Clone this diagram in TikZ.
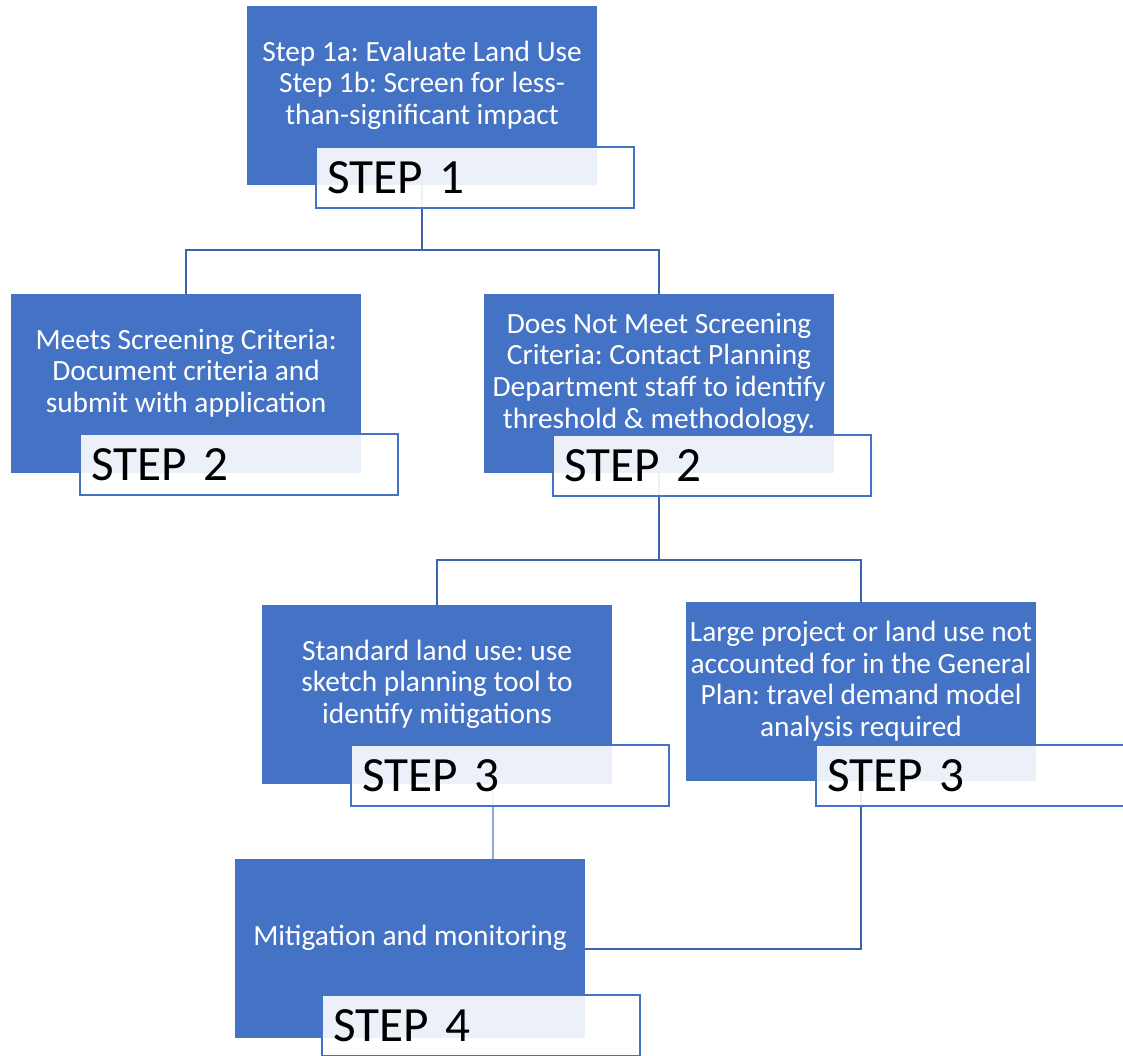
\documentclass[tikz,border=0pt]{standalone}
\usepackage{fontspec}
\setmainfont{Carlito}
\usetikzlibrary{calc}
\pgfdeclarelayer{bg}
\pgfsetlayers{bg,main}
\definecolor{boxblue}{HTML}{4472C4}
\definecolor{connblue}{HTML}{3C64AE}
\definecolor{thinblue}{HTML}{8EAADB}
\begin{document}
\frenchspacing
\begin{tikzpicture}[x=0.025cm,y=-0.025cm,
 bluebox/.style={rectangle, fill=boxblue, draw=none, minimum width=8.75cm, minimum height=4.475cm, inner sep=0pt, outer sep=0pt, anchor=north west},
 stepbox/.style={rectangle, draw=boxblue, line width=1.42pt, fill=white, fill opacity=0.9, text opacity=1, minimum width=7.95cm, minimum height=1.525cm, text width=7.4cm, inner xsep=0.275cm, inner ysep=0pt, outer sep=0pt, align=left, anchor=north west, font=\frenchspacing\fontsize{35}{42}\selectfont, text height=22.7pt, text depth=0pt},
 bodytext/.style={text=white, align=center, inner sep=0pt, font=\frenchspacing\fontsize{20.9}{22.5}\selectfont},
 conn/.style={draw=connblue, line width=1.42pt},
 thinconn/.style={draw=thinblue, line width=0.85pt}]
\useasboundingbox (0,0) rectangle (1123,1055);
\clip (0,0) rectangle (1123,1055);

% Step 1
\node[bluebox] (b1) at (247,6) {};
\node[bodytext] (t1) at ($(b1.north)+(0,79)$) {Step 1a: Evaluate Land Use\\Step 1b: Screen for less-\\than-significant impact};
\node[stepbox] (l1) at (316,147) {STEP 1};

% Step 2 left
\node[bluebox] (b2L) at (11,294) {};
\node[bodytext] (t2L) at ($(b2L.north)+(0,79)$) {Meets Screening Criteria:\\Document criteria and\\submit with application};
\node[stepbox] (l2L) at (80,434) {STEP 2};

% Step 2 right
\node[bluebox] (b2R) at (484,294) {};
\node[bodytext] (t2R) at ($(b2R.north)+(0,79)$) {Does Not Meet Screening\\Criteria: Contact Planning\\Department staff to identify\\threshold \& methodology.};
\node[stepbox] (l2R) at (553,435) {STEP 2};

% Step 3 left
\node[bluebox] (b3L) at (262,605) {};
\node[bodytext] (t3L) at ($(b3L.north)+(0,79)$) {Standard land use: use\\sketch planning tool to\\identify mitigations};
\node[stepbox] (l3L) at (351,745) {STEP 3};

% Step 3 right
\node[bluebox] (b3R) at (686,602) {};
\node[bodytext] (t3R) at ($(b3R.north)+(0,79)$) {Large project or land use not\\accounted for in the General\\Plan: travel demand model\\analysis required};
\node[stepbox] (l3R) at (816,745) {STEP 3};

% Step 4
\node[bluebox] (b4) at (235,859) {};
\node[bodytext] (t4) at ($(b4.north)+(0,79)$) {Mitigation and monitoring};
\node[stepbox] (l4) at (322,995) {STEP 4};

\begin{pgfonlayer}{bg}
\draw[conn] (b1.south) -- ++(0,65) -| (b2L.north);
\draw[conn] (b1.south) -- ++(0,65) -| (b2R.north);
\draw[conn] (b2R.south) -- ++(0,87) -| (b3L.north);
\draw[conn] (b2R.south) -- ++(0,87) -| (b3R.north);
\coordinate (s3) at ($(l3L.north west)+(142,43)$);
\draw[thinconn] (s3) -- (s3 |- b4.north);
\draw[conn] (b3R.south) |- (b4.east);
\end{pgfonlayer}
\end{tikzpicture}
\end{document}
